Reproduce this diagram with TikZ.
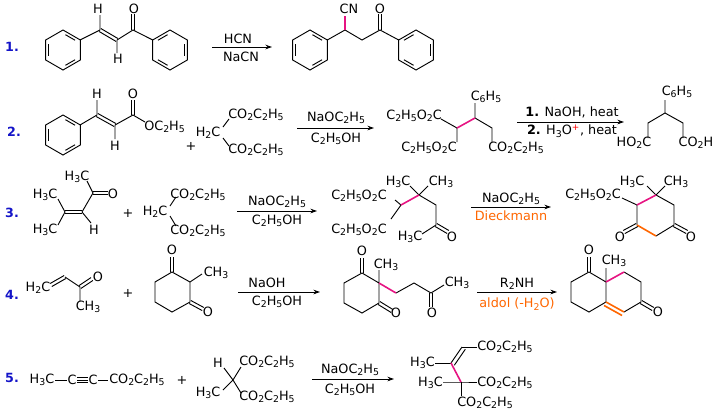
\documentclass[tikz,border=0pt]{standalone}
\usepackage{fontspec}
\setmainfont{DejaVu Sans}
\usetikzlibrary{calc,arrows.meta}
\definecolor{pk}{RGB}{230,20,130}
\definecolor{og}{RGB}{255,102,0}
\definecolor{nb}{RGB}{20,20,200}
\newcommand\lowx[1]{\raisebox{-0.35ex}{\fontsize{7}{7}\selectfont #1}}
\newcommand\Est{CO\lowx2C\lowx2H\lowx5}
\newcommand\EstL{C\lowx2H\lowx5O\lowx2C}
\newcommand\hexring[2]{%
 \draw[bd] ($(#1)+(30:20)$)--($(#1)+(90:20)$)--($(#1)+(150:20)$)--($(#1)+(210:20)$)--($(#1)+(270:20)$)--($(#1)+(330:20)$)--cycle;
 \foreach \a in {#2}{\draw[bd] ($(#1)+(\a+9:15.5)$)--($(#1)+(\a+51:15.5)$);}}
\newcommand\dbl[2]{\draw[bd] ($(#1)!1.3pt!90:(#2)$)--($(#2)!1.3pt!-90:(#1)$); \draw[bd] ($(#1)!1.3pt!-90:(#2)$)--($(#2)!1.3pt!90:(#1)$);}
\begin{document}
\begin{tikzpicture}[x=0.75pt,y=-0.75pt,
 bd/.style={line width=0.7pt},
 lab/.style={inner sep=0pt,font=\fontsize{9.6}{10}\selectfont},
 num/.style={inner sep=0pt,font=\fontsize{9.5}{10}\selectfont\bfseries,text=nb},
 arr/.style={line width=0.7pt,-{Stealth[length=5pt,width=3.5pt]}}]
\useasboundingbox (0,0) rectangle (728,418);
% ---------- 1
\node[num] (n1) at (12,47) {1.};
\coordinate (r1) at (63,50);
\hexring{r1}{150,270,30}
\coordinate (a1) at (80,40); \coordinate (a2) at (100,30); \coordinate (a3) at (117,40); \coordinate (a4) at (133,30); \coordinate (a5) at (152.7,40);
\coordinate (r2) at (170,50);
\hexring{r2}{210,330,90}
\draw[bd] (a1)--(a2) (a3)--(a4)--(a5) (a2)--(100,15) (a3)--(117,53);
\dbl{a2}{a3}
\dbl{a4}{$(a4)+(0,-16)$}
\node[lab] (h1) at (98,9) {H}; \node[lab] (h2) at (118,59) {H}; \node[lab] (o1) at (134,9) {O};
\draw[arr] (212,47)--(272,47);
\node[lab] at (238,39) {HCN}; \node[lab] at (241,57) {NaCN};
\coordinate (r3) at (310,50); \hexring{r3}{150,270,30}
\coordinate (b1) at (345,30); \coordinate (b2) at (362,40); \coordinate (b3) at (380,30); \coordinate (r4) at (416,50);
\hexring{r4}{210,330,90}
\draw[bd] (327.3,40)--(b1)--(b2)--(b3)--(398.7,40);
\draw[pk,line width=1.2pt] (b1)--(345,16);
\node[lab] at (349,9) {CN};
\dbl{b3}{$(b3)+(0,-16)$}
\node[lab] at (380,9) {O};
% ---------- 2
\node[num] at (14,132) {2.};
\coordinate (r5) at (63,135); \hexring{r5}{150,270,30}
\coordinate (c1) at (80,125); \coordinate (c2) at (97,115); \coordinate (c3) at (115,125); \coordinate (c4) at (133,115);
\draw[bd] (c1)--(c2) (c3)--(c4)--(145,122) (c2)--(97,100) (c3)--(115,139);
\dbl{c2}{c3} \dbl{c4}{$(c4)+(0,-15)$}
\node[lab] at (97,94) {H}; \node[lab] at (115,146) {H}; \node[lab] at (133,94) {O};
\node[lab,anchor=west] at (144,127) {OC\lowx2H\lowx5};
\node[lab] at (191,146) {+};
\node[lab] at (208,133) {H\lowx2C};
\draw[bd] (223,127)--(229,119) (223,138)--(229,146);
\node[lab,anchor=west] at (228,115) {\Est};
\node[lab,anchor=west] at (228,150) {\Est};
\draw[arr] (297,128)--(374,128);
\node[lab] at (336,118) {NaOC\lowx2H\lowx5}; \node[lab] at (336,139) {C\lowx2H\lowx5OH};
\coordinate (d1) at (441,119); \coordinate (d2) at (457,128); \coordinate (d3) at (475,118); \coordinate (d4) at (492,128);
\draw[bd] (d1)--(d2) (d3)--(d4)--(492,142) (d2)--(457,142) (d3)--(475,103);
\draw[pk,line width=1.2pt] (d2)--(d3);
\node[lab,anchor=east] at (442,116) {\EstL};
\node[lab] at (429,148) {\EstL};
\node[lab] at (516,148) {\Est};
\node[lab] at (486,97) {C\lowx6H\lowx5};
\draw[arr] (517,122)--(624,122);
\node[lab] at (572,112) {\textbf{1.} NaOH, heat};
\node[lab] at (572,131) {\textbf{2.} H\lowx3O\textsuperscript{\color{red}+}, heat};
\coordinate (e1) at (665,113);
\draw[bd] (665,100)--(e1)--(648,123)--(648,138) (e1)--(683,123)--(683,138);
\node[lab] at (677,92) {C\lowx6H\lowx5};
\node[lab] at (634,143) {HO\lowx2C}; \node[lab] at (696,143) {CO\lowx2H};
% ---------- 3
\node[num] at (12,213) {3.};
\coordinate (f1) at (65,212); \coordinate (f2) at (82,212); \coordinate (f3) at (93,193);
\dbl{f1}{f2}
\draw[bd] (f2)--(f3)--(87,181) (f2)--(91,223) (f1)--(58,199) (f1)--(58,225);
\dbl{f3}{108,193}
\node[lab] at (113,194) {O}; \node[lab] at (77,177) {H\lowx3C};
\node[lab] at (45,195) {H\lowx3C}; \node[lab] at (45,230) {H\lowx3C}; \node[lab] at (94,230) {H};
\node[lab] at (128,213) {+};
\node[lab] at (155,212) {H\lowx2C};
\draw[bd] (170,206)--(176,197) (170,216)--(176,226);
\node[lab,anchor=west] at (170,195) {\Est};
\node[lab,anchor=west] at (170,231) {\Est};
\draw[arr] (237,211)--(317,211);
\node[lab] at (277,202) {NaOC\lowx2H\lowx5}; \node[lab] at (277,221) {C\lowx2H\lowx5OH};
\coordinate (g1) at (401,205); \coordinate (g2) at (419,195); \coordinate (g3) at (436,205); \coordinate (g4) at (436,225);
\draw[bd] (g1)--(395,200) (g1)--(391,219) (g2)--(g3)--(g4)--(422,234) (g2)--(410,186) (g2)--(428,186);
\draw[pk,line width=1.2pt] (g1)--(g2);
\dbl{g4}{448,232}
\node[lab] at (359,196) {\EstL}; \node[lab] at (359,230) {\EstL};
\node[lab] at (398,182) {H\lowx3C}; \node[lab] at (441,182) {CH\lowx3};
\node[lab] at (410,237) {H\lowx3C}; \node[lab] at (452,237) {O};
\draw[arr] (471,207)--(551,207);
\node[lab] at (511,199) {NaOC\lowx2H\lowx5}; \node[lab,text=og] at (511,216) {Dieckmann};
\coordinate (k1) at (637,205); \coordinate (k2) at (656,195); \coordinate (k3) at (674,205); \coordinate (k4) at (674,225); \coordinate (k5) at (656,236); \coordinate (k6) at (637,225);
\draw[bd] (k2)--(k3)--(k4)--(k5) (k6)--(k1) (k1)--(622,198) (k2)--(647,186) (k2)--(665,186);
\draw[pk,line width=1.2pt] (k1)--(k2);
\draw[og,line width=1.2pt] (k6)--(k5);
\dbl{k6}{624,232} \dbl{k4}{687,232}
\node[lab] at (593,195) {\EstL};
\node[lab] at (632,182) {H\lowx3C}; \node[lab] at (676,182) {CH\lowx3};
\node[lab] at (620,237) {O}; \node[lab] at (691,237) {O};
% ---------- 4
\node[num] at (12,295) {4.};
\node[lab] at (38,288) {H\lowx2C};
\coordinate (m1) at (65,277); \coordinate (m2) at (80,287);
\dbl{51,285}{m1}
\draw[bd] (m1)--(m2)--(80,301);
\dbl{m2}{92,279}
\node[lab] at (98,277) {O}; \node[lab] at (88,307) {CH\lowx3};
\node[lab] at (128,293) {+};
\coordinate (p1) at (172,272); \coordinate (p2) at (190,282); \coordinate (p3) at (190,302); \coordinate (p4) at (172,312); \coordinate (p5) at (155,302); \coordinate (p6) at (155,282);
\draw[bd] (p1)--(p2)--(p3)--(p4)--(p5)--(p6)--cycle (p2)--(202,274);
\dbl{p1}{172,257} \dbl{p3}{203,309}
\node[lab] at (172,250) {O}; \node[lab] at (216,273) {CH\lowx3}; \node[lab] at (208,312) {O};
\draw[arr] (238,292)--(320,292);
\node[lab] at (267,283) {NaOH}; \node[lab] at (277,302) {C\lowx2H\lowx5OH};
\coordinate (q1) at (362,273); \coordinate (q2) at (379,283); \coordinate (q3) at (379,303); \coordinate (q4) at (362,313); \coordinate (q5) at (344,303); \coordinate (q6) at (344,283);
\coordinate (s1) at (396,293); \coordinate (s2) at (414,283); \coordinate (s3) at (431,293);
\draw[bd] (q1)--(q2)--(q3)--(q4)--(q5)--(q6)--cycle (q2)--(379,270) (s1)--(s2)--(s3)--(444,285);
\draw[pk,line width=1.2pt] (q2)--(s1);
\dbl{q1}{362,258} \dbl{q3}{392,311} \dbl{s3}{431,307}
\node[lab] at (362,251) {O}; \node[lab] at (386,265) {CH\lowx3}; \node[lab] at (396,313) {O};
\node[lab] at (432,313) {O}; \node[lab] at (457,283) {CH\lowx3};
\draw[arr] (477,292)--(557,292);
\node[lab] at (517,284) {R\lowx2NH}; \node[lab,text=og] at (517,304) {aldol (-H\lowx2O)};
\coordinate (t1) at (589,272); \coordinate (t2) at (606,282); \coordinate (t3) at (606,302); \coordinate (t4) at (589,312); \coordinate (t5) at (571,302); \coordinate (t6) at (571,282);
\coordinate (u1) at (624,272); \coordinate (u2) at (641,282); \coordinate (u3) at (641,302); \coordinate (u4) at (624,312);
\draw[bd] (t1)--(t2)--(t3)--(t4)--(t5)--(t6)--cycle (t2)--(606,268) (u1)--(u2)--(u3)--(u4);
\draw[pk,line width=1.2pt] (t2)--(u1);
\draw[og,line width=1.2pt] (t3)--(u4) ($(t3)!3pt!-90:(u4)$)--($(u4)!3pt!90:(t3)$);
\dbl{t1}{589,257} \dbl{u3}{653,309}
\node[lab] at (589,250) {O}; \node[lab] at (614,261) {CH\lowx3}; \node[lab] at (658,312) {O};
% ---------- 5
\node[num] at (12,378) {5.};
\node[lab] at (42,380) {H\lowx3C};
\draw[bd] (55,380)--(67,380) (98,380)--(108,380);
\node[lab] at (72,380) {C}; \node[lab] at (93,380) {C};
\draw[bd] (77,377.5)--(88,377.5) (77,380)--(88,380) (77,382.5)--(88,382.5);
\node[lab,anchor=west] at (109,380) {\Est};
\node[lab] at (182,380) {+};
\coordinate (v1) at (233,380);
\draw[bd] (224,368)--(v1)--(241,367) (v1)--(223,390) (v1)--(241,393);
\node[lab] at (218,363) {H}; \node[lab] at (208,393) {H\lowx3C};
\node[lab,anchor=west] at (239,362) {\Est}; \node[lab,anchor=west] at (239,397) {\Est};
\draw[arr] (312,379)--(394,379);
\node[lab] at (350,370) {NaOC\lowx2H\lowx5}; \node[lab] at (350,390) {C\lowx2H\lowx5OH};
\coordinate (w1) at (451,363); \coordinate (w2) at (462,347); \coordinate (w3) at (461,382);
\draw[bd] (w2)--(477,347) (435,363)--(w1) (443,382)--(w3)--(477,382) (w3)--(461,396);
\draw[bd] (w1)--(w2) ($(w1)!3pt!-90:(w2)$)--($(w2)!3pt!90:(w1)$);
\draw[pk,line width=1.2pt] (w1)--(w3);
\node[lab,anchor=west] at (477,347) {\Est}; \node[lab,anchor=east] at (435,363) {H\lowx3C};
\node[lab,anchor=east] at (443,383) {H\lowx3C}; \node[lab,anchor=west] at (477,383) {\Est};
\node[lab] at (485,403) {\Est};
\end{tikzpicture}
\end{document}
